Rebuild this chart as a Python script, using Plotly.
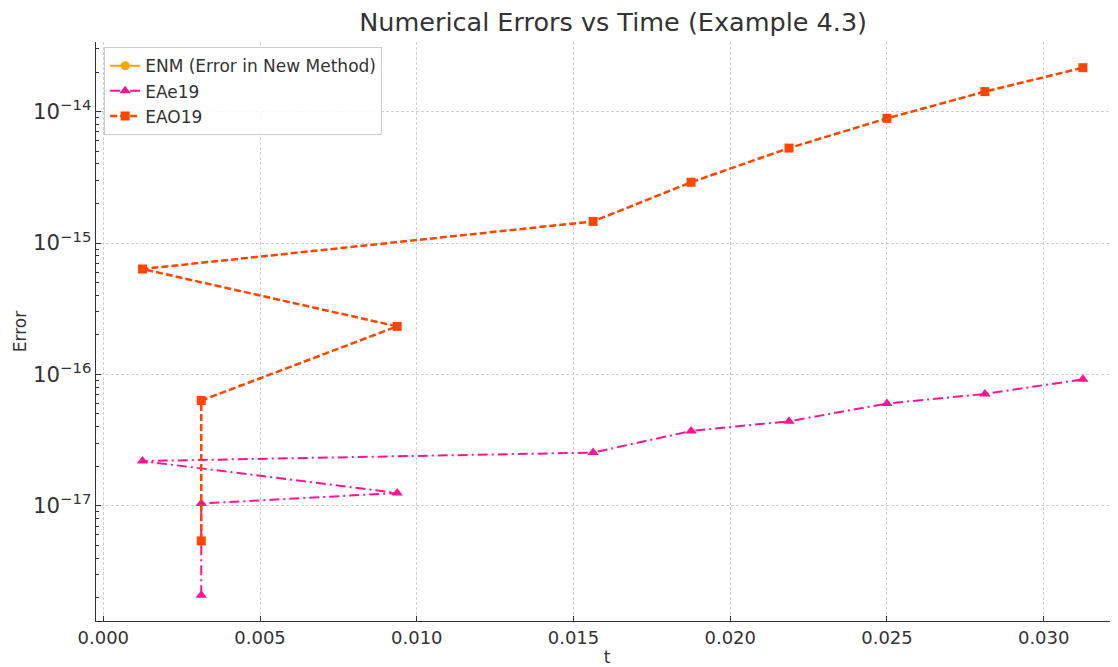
import plotly.graph_objects as go

# Data
t_vals = [0.003125, 0.003125, 0.009375, 0.00125, 0.015625, 0.01875, 0.021875, 0.025, 0.028125, 0.03125]
enm_vals = [0, 0, 0, 0, 0, 0, 0, 0, 0, 0]
eae19_vals = [2.08e-18, 1.04e-17, 1.25e-17, 2.19e-17, 2.54e-17, 3.71e-17, 4.40e-17, 6.00e-17, 7.10e-17, 9.18e-17]
eao19_vals = [5.40e-18, 6.32e-17, 2.32e-16, 6.34e-16, 1.46e-15, 2.90e-15, 5.28e-15, 8.89e-15, 1.42e-14, 2.16e-14]

x_tick_vals = [0.0, 0.005, 0.010, 0.015, 0.020, 0.025, 0.030]
x_tick_text = ["0.000", "0.005", "0.010", "0.015", "0.020", "0.025", "0.030"]

FONT = "DejaVu Sans"
TXT = "#333333"

# The page body adds an 8px offset, so the figure is sized to compensate.
W, H = 1110, 659

fig = go.Figure()
fig.add_trace(go.Scatter(
    x=t_vals, y=enm_vals, name="ENM (Error in New Method)",
    mode="lines+markers",
    line=dict(color="#FFA500", width=2),
    marker=dict(symbol="circle", size=9, color="#FFA500"),
))
fig.add_trace(go.Scatter(
    x=t_vals, y=eae19_vals, name="EAe19",
    mode="lines+markers",
    line=dict(color="#FF1493", width=2, dash="10px,4px,2px,4px"),
    marker=dict(symbol="triangle-up", size=10, color="#FF1493"),
))
fig.add_trace(go.Scatter(
    x=t_vals, y=eao19_vals, name="EAO19",
    mode="lines+markers",
    line=dict(color="#FF4500", width=2.5, dash="7px,3px"),
    marker=dict(symbol="square", size=9, color="#FF4500"),
))

fig.update_layout(
    width=W, height=H,
    margin=dict(l=88, r=0, t=34, b=46, autoexpand=False),
    paper_bgcolor="white", plot_bgcolor="white",
    font=dict(family=FONT, color=TXT),
    title=dict(text="Numerical Errors vs Time (Example 4.3)",
               font=dict(size=25.5, color=TXT, family=FONT),
               x=0.506, xref="paper", xanchor="center",
               y=1 - 14 / H, yref="container", yanchor="middle"),
    showlegend=True,
    legend=dict(x=0.008, y=0.991, xanchor="left", yanchor="top",
                bgcolor="rgba(255,255,255,0.85)", bordercolor="#cccccc", borderwidth=1,
                font=dict(size=17, color=TXT, family=FONT),
                itemwidth=30, tracegroupgap=0),
)

fig.update_xaxes(
    range=[-0.000233, 0.03237],
    tickvals=x_tick_vals, ticktext=x_tick_text,
    ticks="inside", ticklen=5, tickwidth=1, tickcolor=TXT,
    showline=True, linecolor=TXT, linewidth=1.3, mirror=False,
    showgrid=True, gridcolor="#d0d0d0", gridwidth=1, griddash="3px,2px",
    zeroline=False,
    tickfont=dict(size=18, color=TXT, family=FONT),
    title=dict(text="t", font=dict(size=17, color=TXT, family=FONT), standoff=8),
)
fig.update_yaxes(
    type="log", range=[-17.877, -13.470],
    dtick=1, exponentformat="power",
    ticks="inside", ticklen=5, tickwidth=1, tickcolor=TXT,
    minor=dict(ticks="inside", ticklen=3, tickcolor=TXT, showgrid=False),
    showline=True, linecolor=TXT, linewidth=1.3, mirror=False,
    showgrid=True, gridcolor="#d0d0d0", gridwidth=1, griddash="3px,2px",
    zeroline=False,
    tickfont=dict(size=17, color=TXT, family=FONT),
    title=dict(text="Error", font=dict(size=17, color=TXT, family=FONT), standoff=2),
)

fig.write_html("out.html")
